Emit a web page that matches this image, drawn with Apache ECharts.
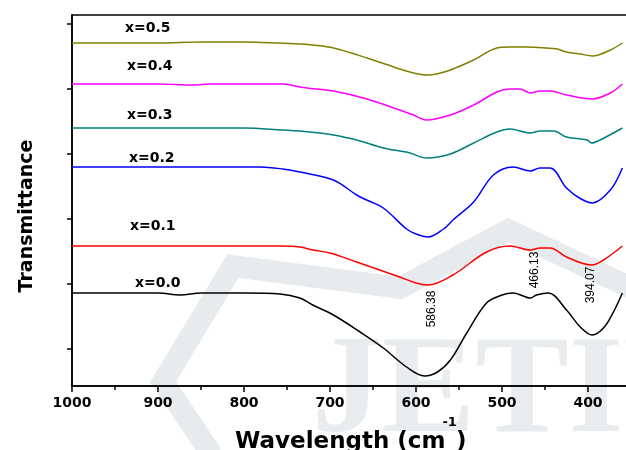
<!DOCTYPE html>
<html>
<head>
<meta charset="utf-8">
<script src="https://cdn.jsdelivr.net/npm/echarts@6/dist/echarts.min.js"></script>
<style>
  html, body { margin: 0; padding: 0; background: #fff; }
  #chart { width: 626px; height: 450px; }
</style>
</head>
<body>
<div id="chart"></div>
<script>
// readings: [wavenumber, offset transmittance]
const x00 = [[1000,93],[950,93],[900,93],[874,91],[850,93],[800,93],[758,92],[735,88],[720,81],[696,71],[665,54],[638,38],[611,19],[590,10],[575,14],[560,26],[541,53],[518,83],[500,91],[487,93],[467,88],[460,91],[446,93],[425,76],[409,59],[395,51],[382,58],[371,73],[360,93]];
const x01 = [[1000,140],[950,140],[900,140],[850,140],[800,140],[758,140],[735,139],[720,136],[700,133],[669,124],[619,109],[600,103],[586,101],[557,111],[518,134],[491,140],[467,136],[456,138],[444,138],[425,129],[396,121],[382,126],[360,140]];
const x02 = [[1000,219],[950,219],[900,219],[850,219],[800,219],[781,219],[755,217],[735,214],[696,206],[669,191],[660,187],[638,178],[611,157],[600,152],[586,149],[568,157],[557,166],[533,184],[510,211],[487,219],[467,215],[456,218],[444,218],[425,198],[410,188],[395,183],[374,196],[360,218]];
const x03 = [[1000,258],[950,258],[900,258],[850,258],[800,258],[755,256],[735,255],[712,253],[696,251],[669,246],[638,238],[607,233],[588,228],[560,232],[533,243],[506,254],[491,257],[467,253],[456,255],[440,255],[425,249],[401,246],[396,243],[386,246],[360,258]];
const x04 = [[1000,302],[950,302],[900,302],[859,301],[840,302],[800,302],[755,302],[735,299],[727,298],[696,295],[657,287],[619,276],[603,271],[588,266],[560,271],[533,281],[506,294],[491,297],[479,297],[467,293],[456,295],[444,295],[425,291],[395,287],[374,293],[360,302]];
const x05 = [[1000,343],[950,343],[900,343],[850,344],[800,344],[760,343],[735,342],[720,341],[696,338],[657,328],[619,317],[603,313],[588,311],[576,312],[560,316],[533,326],[506,338],[491,339],[471,339],[448,338],[436,337],[425,334],[409,332],[395,330],[374,336],[360,343]];

const seriesNames = ['x=0.0', 'x=0.1', 'x=0.2', 'x=0.3', 'x=0.4', 'x=0.5'];
const seriesData = [x00, x01, x02, x03, x04, x05];
const colors = ['#000000', '#ff0000', '#0000ff', '#008080', '#ff00ff', '#808000'];
const yTicks = [37, 102, 167, 232, 297, 362];
const peaks = ['586.38', '466.13', '394.07'];

const chart = echarts.init(document.getElementById('chart'));

// label spots, pixel positions
const labelPos = [[135, 283], [130, 226], [129, 158], [127, 115], [127, 66], [125, 28]];
const peakPos = [[432, 309], [535, 270], [591, 285]];

// measure the x title so the superscript sits right after "cm"
const ctx = document.createElement('canvas').getContext('2d');
const titleFont = 'bold 23px "DejaVu Sans"';
const supFont = 'bold 13px "DejaVu Sans"';
ctx.font = titleFont;
const mainW = ctx.measureText('Wavelength (cm').width;
ctx.font = supFont;
const supW = ctx.measureText('-1').width;

const graphics = [
  {
    type: 'polyline', z: -10, silent: true,
    shape: { points: [[212, 455], [163, 382], [233, 266], [400, 288], [508, 230], [640, 292]] },
    style: { stroke: '#e7ebed', lineWidth: 22, fill: null, lineJoin: 'miter' }
  },
  {
    type: 'text', z: -10, silent: true, x: 312, y: 395,
    style: { text: 'JETIR', font: 'bold 140px "Liberation Serif"', fill: '#e8ecee', verticalAlign: 'middle' }
  },
  {
    type: 'text', x: 235, y: 442,
    style: { text: 'Wavelength (cm', font: titleFont, fill: '#000', verticalAlign: 'middle' }
  },
  {
    type: 'text', x: 235 + mainW - 3, y: 423,
    style: { text: '-1', font: supFont, fill: '#000', verticalAlign: 'middle' }
  },
  {
    type: 'text', x: 235 + mainW + supW - 4, y: 442,
    style: { text: ')', font: titleFont, fill: '#000', verticalAlign: 'middle' }
  },
  {
    type: 'text', x: 27, y: 216, rotation: Math.PI / 2,
    style: { text: 'Transmittance', font: 'bold 19px "DejaVu Sans"', fill: '#000', align: 'center', verticalAlign: 'middle' }
  }
];

seriesNames.forEach((name, i) => {
  graphics.push({
    type: 'text', x: labelPos[i][0], y: labelPos[i][1],
    style: { text: name, font: 'bold 14px "DejaVu Sans"', fill: '#000', verticalAlign: 'middle' }
  });
});

peaks.forEach((p, i) => {
  graphics.push({
    type: 'text', x: peakPos[i][0], y: peakPos[i][1], rotation: Math.PI / 2,
    style: { text: p, font: '12px "Liberation Sans"', fill: '#000', align: 'center', verticalAlign: 'middle' }
  });
});

const option = {
  animation: false,
  backgroundColor: '#fff',
  grid: {
    left: 72, top: 15, bottom: 64, right: -48,
    outerBoundsMode: 'none',
    containLabel: false,
    show: true, borderColor: '#000', borderWidth: 1.5
  },
  xAxis: {
    type: 'value',
    min: 300, max: 1000, interval: 100, inverse: true,
    axisLine: { lineStyle: { color: '#000', width: 1.5 } },
    axisTick: { length: 6, lineStyle: { color: '#000', width: 1.5 } },
    minorTick: { show: true, splitNumber: 2, length: 4, lineStyle: { color: '#000', width: 1.5 } },
    axisLabel: {
      color: '#000', fontFamily: 'DejaVu Sans', fontWeight: 'bold', fontSize: 14, margin: 10,
      formatter: v => String(v)
    },
    splitLine: { show: false }
  },
  yAxis: {
    type: 'value',
    min: 0, max: 371,
    axisLine: { show: true, lineStyle: { color: '#000', width: 1.5 } },
    axisTick: { show: true, length: 5, customValues: yTicks, lineStyle: { color: '#000', width: 1.5 } },
    axisLabel: { show: false },
    splitLine: { show: false }
  },
  series: seriesData.map((d, i) => ({
    name: seriesNames[i],
    type: 'line',
    data: d,
    smooth: 0.35,
    showSymbol: false,
    lineStyle: { color: colors[i], width: 1.5 },
    z: 3
  })),
  graphic: graphics
};

chart.setOption(option);
</script>
</body>
</html>
